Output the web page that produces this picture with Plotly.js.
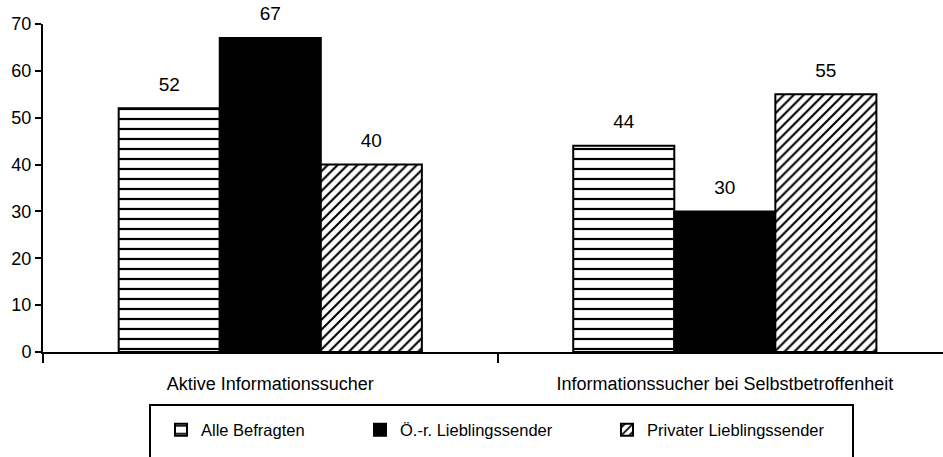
<!DOCTYPE html>
<html>
<head>
<meta charset="utf-8">
<script src="https://cdn.plot.ly/plotly-3.0.1.min.js"></script>
<style>html,body{margin:0;padding:0;background:#fff;}#chart{width:943px;height:457px;}</style>
</head>
<body>
<div id="chart"></div>
<script>
var categories = ["Aktive Informationssucher", "Informationssucher bei Selbstbetroffenheit"];
var seriesNames = ["Alle Befragten", "Ö.-r. Lieblingssender", "Privater Lieblingssender"];
var alleBefragten = [52, 44];
var oeffentlichRechtlich = [67, 30];
var privater = [40, 55];
var yTicks = [0, 10, 20, 30, 40, 50, 60, 70];

var FONT = "'Liberation Sans', Arial, sans-serif";
var seriesValues = [alleBefragten, oeffentlichRechtlich, privater];
var legendIds = ["legend", "legend2", "legend3"];

var markers = [
  {color: "#fff", line: {color: "#000", width: 2},
    pattern: {shape: "-", fgcolor: "#000", bgcolor: "#fff", size: 10, solidity: 0.22}},
  {color: "#000", line: {color: "#000", width: 2}},
  {color: "#fff", line: {color: "#000", width: 2},
    pattern: {shape: "/", fgcolor: "#000", bgcolor: "#fff", size: 7, solidity: 0.3}}
];

var traces = [];
seriesValues.forEach(function (vals, i) {
  traces.push({
    type: "bar", x: categories, y: vals, name: seriesNames[i],
    marker: markers[i], legend: legendIds[i], hoverinfo: "none"
  });
});
seriesValues.forEach(function (vals, i) {
  traces.push({
    type: "scatter", mode: "markers+text", x: categories, y: vals,
    text: vals.map(String), textposition: "top center",
    textfont: {family: FONT, size: 19, color: "#000"},
    marker: {size: 19, opacity: 0}, showlegend: false, cliponaxis: false,
    hoverinfo: "none"
  });
});

function legendAt(xPx) {
  return {
    orientation: "h",
    xref: "container", yref: "container",
    x: xPx / 943, xanchor: "left",
    y: 1 - 430 / 457, yanchor: "middle",
    font: {family: FONT, size: 16.5, color: "#000"},
    bgcolor: "rgba(0,0,0,0)", borderwidth: 0
  };
}

var layout = {
  width: 943, height: 457,
  margin: {l: 43, r: 0, t: 24, b: 105, autoexpand: false},
  paper_bgcolor: "#fff", plot_bgcolor: "#fff",
  font: {family: FONT, size: 18, color: "#000"},
  barmode: "group", bargap: 0.333, bargroupgap: 0,
  scattermode: "group", scattergap: 0.333,
  showlegend: true,
  xaxis: {
    type: "category",
    range: [-0.5, 1.48],
    showline: true, linecolor: "#000", linewidth: 2,
    ticks: "outside", tickson: "boundaries", ticklen: 9, tickwidth: 2, tickcolor: "#000",
    ticklabelstandoff: 14,
    tickfont: {family: FONT, size: 18, color: "#000"},
    showgrid: false, zeroline: false, fixedrange: true
  },
  yaxis: {
    range: [0, 70],
    tickvals: yTicks,
    showline: true, linecolor: "#000", linewidth: 2,
    ticks: "outside", ticklen: 6, tickwidth: 2, tickcolor: "#000",
    tickfont: {family: FONT, size: 18, color: "#000"},
    showgrid: false, zeroline: false, fixedrange: true
  },
  legend: legendAt(161),
  legend2: legendAt(360),
  legend3: legendAt(607),
  shapes: [{
    type: "rect", xref: "paper", yref: "paper",
    x0: (150 - 43) / 900, x1: (853 - 43) / 900,
    y0: -0.5, y1: (352 - 405) / 328,
    line: {color: "#000", width: 2}, fillcolor: "rgba(0,0,0,0)"
  }]
};

Plotly.newPlot("chart", traces, layout, {displayModeBar: false, staticPlot: true});
</script>
</body>
</html>
